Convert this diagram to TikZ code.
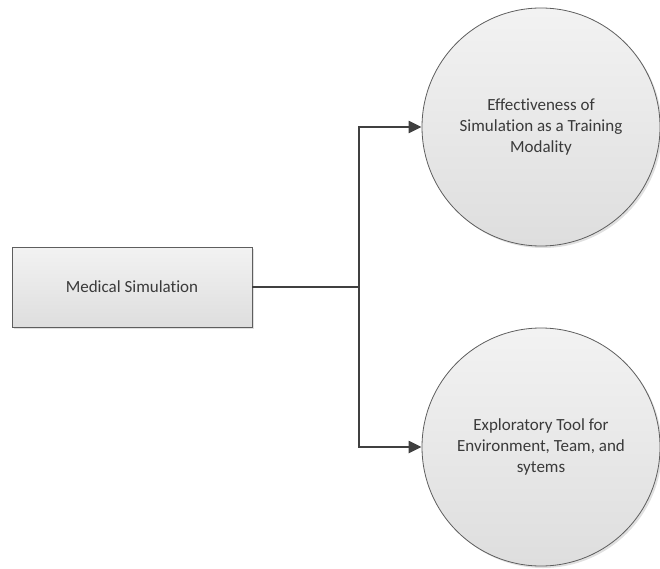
\documentclass[tikz,border=0pt]{standalone}
\usepackage{fontspec}
\setmainfont{Carlito}[Ligatures=CommonOff]
\usetikzlibrary{arrows.meta,shadows,positioning}
\definecolor{edgegray}{HTML}{5E5E5E}
\definecolor{linegray}{HTML}{404040}
\definecolor{textgray}{HTML}{3A3A3A}
\tikzset{
  shapebase/.style={draw=edgegray, line width=0.8pt, top color=white!95!black, bottom color=white!87!black,
    text=textgray, font=\fontsize{17}{21}\selectfont, align=center,
    drop shadow={shadow xshift=2pt, shadow yshift=-2pt, fill=black, opacity=0.12}},
  rectbox/.style={shapebase, rectangle, minimum width=240pt, minimum height=80pt, inner sep=0pt},
  circbox/.style={shapebase, circle, minimum size=238pt, inner sep=0pt},
  conn/.style={draw=linegray, line width=2.2pt},
  arr/.style={conn, -{Triangle[length=13pt, width=12pt]}}
}
\begin{document}
\begin{tikzpicture}[x=1pt, y=-1pt]
\useasboundingbox (0,0) rectangle (660,569);
\node[rectbox] (ms) at (132,287) {Medical Simulation};
\node[circbox] (eff) at (541,127) {Effectiveness of\\Simulation as a Training\\Modality};
\node[circbox] (exp) at (541,447) {Exploratory Tool for\\Environment, Team, and\\sytems};
\coordinate (j) at (359,287);
\draw[conn] (ms.east) -- (j);
\draw[arr] (j) |- (eff.west);
\draw[arr] (j) |- (exp.west);
\end{tikzpicture}
\end{document}
